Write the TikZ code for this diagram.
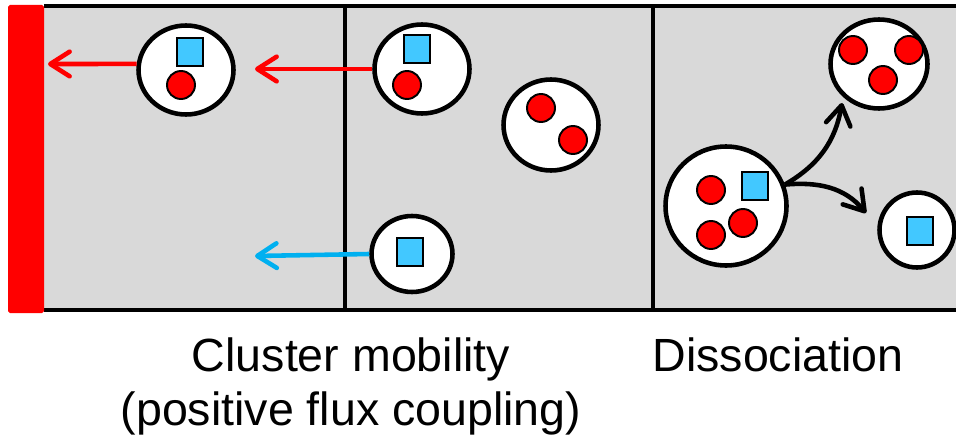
\documentclass[tikz,border=0pt]{standalone}
\usepackage{fontspec}
\setmainfont{Liberation Sans}
\usetikzlibrary{arrows.meta,shapes.geometric}

\definecolor{boxgray}{RGB}{217,217,217}
\definecolor{sqblue}{RGB}{66,200,255}
\definecolor{flowblue}{RGB}{0,176,240}

\begin{document}
\begin{tikzpicture}[x=0.02cm,y=-0.02cm,
  >={Straight Barb[round,length=11pt,width=14pt]},
  cluster/.style={ellipse,draw,line width=2.6pt,fill=white,inner sep=0pt},
  ratom/.style={circle,draw,line width=1.1pt,fill=red,inner sep=0pt,minimum size=0.56cm},
  batom/.style={rectangle,draw,line width=1.1pt,fill=sqblue,inner sep=0pt,
    minimum width=0.52cm,minimum height=0.56cm},
  flux/.style={line width=2.6pt,->},
  boxlabel/.style={font=\fontsize{26.5}{31}\selectfont,align=center,inner sep=0pt}]
  \useasboundingbox (0,0) rectangle (956,439);

  % strip of cells and the wall on its left
  \fill[boxgray] (44,6) rectangle (956,310);
  \draw[line width=2.6pt] (44,6) -- (956,6) (44,310) -- (956,310);
  \draw[line width=2.4pt] (345,6) -- (345,310) (653,6) -- (653,310);
  \fill[red,rounded corners=1pt] (8,5) rectangle (44,313);

  % clusters
  \node[cluster,minimum width=1.90cm,minimum height=1.78cm] (clA) at (186,70) {};
  \node[cluster,minimum width=1.90cm,minimum height=1.78cm] (clB) at (422,69) {};
  \node[cluster,minimum width=1.62cm,minimum height=1.52cm] (clC) at (412,254) {};
  \node[cluster,minimum width=1.90cm,minimum height=1.82cm] (clD) at (551,125) {};
  \node[cluster,minimum width=2.42cm,minimum height=2.38cm] (clE) at (726,206) {};
  \node[cluster,minimum width=1.94cm,minimum height=1.78cm] (clF) at (879,64) {};
  \node[cluster,minimum width=1.50cm,minimum height=1.50cm] (clG) at (917,230) {};

  \foreach \n/\x/\y in {a1/181/85,b1/407/85,d1/541/108,d2/573/140,
                        e1/711/190,e2/743/223,e3/711/235,
                        f1/853/50,f2/909/50,f3/883/80}
    \node[ratom] (\n) at (\x,\y) {};
  \foreach \n/\x/\y in {a2/190/52,b2/417/49,c1/410/252,e4/755/186,g1/920/231}
    \node[batom] (\n) at (\x,\y) {};

  % hops and break-up
  \coordinate (wall) at (48,64);
  \coordinate (hopB) at (255,69);
  \coordinate (hopC) at (255,256);
  \coordinate (outF) at (842,103);
  \coordinate (outG) at (866,213);
  \draw[flux,red] (clA.173) -- (wall);
  \draw[flux,red] (clB.west) -- (hopB);
  \draw[flux,flowblue] (clC.west) -- (hopC);
  \draw[flux] (clE.20) to[out=30,in=-100] (outF);
  \draw[flux] (clE.20) to[out=5,in=130] (outG);

  \node[boxlabel,anchor=north] (mobility) at (351,337) {Cluster mobility\\(positive flux coupling)};
  \node[boxlabel,anchor=north] (dissoc) at (778,337) {Dissociation};
\end{tikzpicture}
\end{document}
